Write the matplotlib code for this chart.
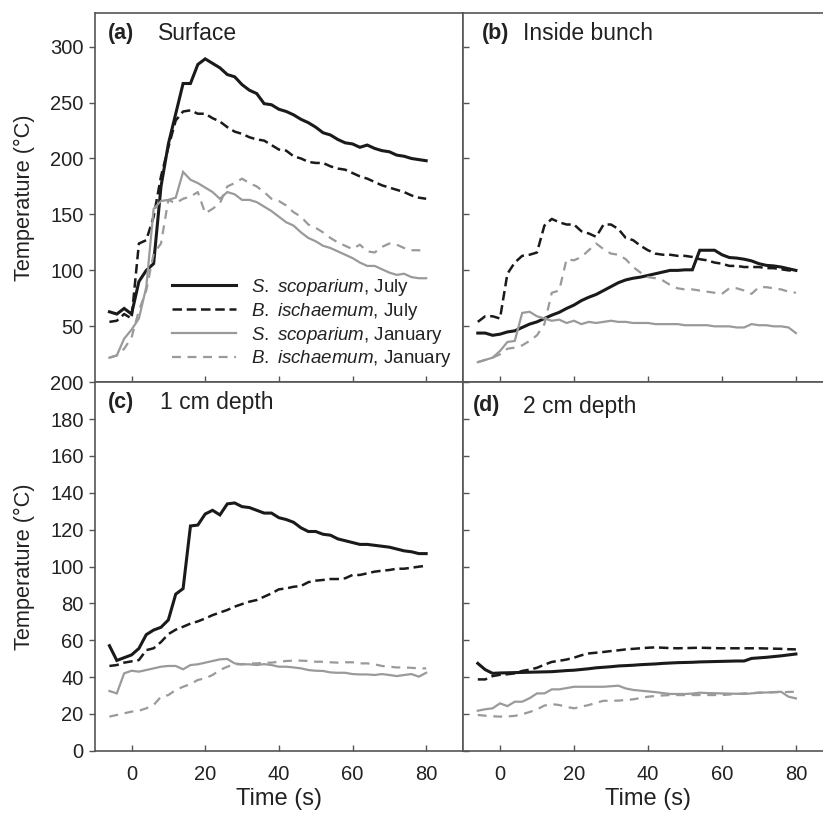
import numpy as np
import matplotlib
matplotlib.use("Agg")
import matplotlib.pyplot as plt

plt.rcParams['font.family'] = ['Liberation Sans', 'DejaVu Sans']
plt.rcParams['mathtext.fontset'] = 'custom'
plt.rcParams['mathtext.it'] = 'Liberation Sans:italic'
plt.rcParams['mathtext.rm'] = 'Liberation Sans'

time_s = list(range(-6, 81, 2))

# Panel (a) Surface
a_ss_jul = [63, 61, 66, 61, 90, 100, 106, 175, 213, 240, 267, 267, 284, 289, 285, 281, 275, 273, 266, 261, 258, 249,
            248, 244, 242, 239, 235, 232, 228, 223, 221, 217, 214, 213, 210, 212, 209, 207, 206, 203, 202, 200, 199, 198]
a_bi_jul = [54, 55, 61, 57, 124, 127, 148, 184, 210, 234, 242, 243, 240, 240, 236, 233, 228, 224, 222, 219, 217, 216,
            212, 208, 207, 202, 200, 197, 196, 196, 193, 191, 190, 187, 184, 182, 179, 176, 174, 172, 170, 167, 165, 164]
a_ss_jan = [22, 24, 39, 47, 57, 85, 155, 162, 163, 165, 188, 181, 178, 174, 170, 164, 170, 168, 163, 163, 161, 157,
            153, 148, 143, 140, 134, 129, 126, 122, 120, 117, 114, 111, 107, 104, 104, 101, 98, 96, 97, 94, 93, 93]
a_bi_jan = [22, 24, 30, 40, 64, 82, 115, 124, 163, 160, 164, 166, 170, 151, 155, 160, 175, 178, 182, 178, 175, 170,
            164, 162, 158, 152, 148, 141, 138, 134, 129, 125, 122, 119, 123, 117, 116, 121, 124, 123, 120, 118, 118, 116]

# Panel (b) Inside bunch
b_ss_jul = [44, 44, 42, 43, 45, 46, 49, 52, 54, 57, 60, 62.5, 66, 69, 73, 76, 78.5, 82, 85.5, 89, 91.5, 93,
            94, 95.5, 97, 98.5, 100, 100, 100.5, 100.5, 118, 118, 118, 114, 111.5, 111, 110, 108.5, 106, 104.5, 104, 103, 101.5, 100]
b_bi_jul = [54, 59, 59, 57, 97, 107, 113, 114, 116, 140, 146, 143, 141, 141, 135, 133, 130, 141, 141, 137, 129, 127,
            122, 118, 115, 114, 114, 113, 113, 112, 110, 109, 107, 106, 104, 104, 103, 103, 103, 102, 102, 101, 100, 100]
b_ss_jan = [18, 20, 22, 28, 36, 37, 62, 63, 59, 57, 55, 56, 53, 55, 52, 54, 53, 54, 55, 54, 54, 53,
            53, 53, 52, 52, 52, 52, 51, 51, 51, 51, 50, 50, 50, 49, 49, 52, 51, 51, 50, 50, 49, 44]
b_bi_jan = [18, 20, 22, 25, 30, 31, 33, 37, 42, 52, 80, 82, 110, 109, 112, 118, 124, 119, 115, 114, 110, 103,
            98, 94, 93, 91, 87, 84, 83, 83, 82, 81, 80, 79, 84, 84, 82, 79, 85, 85, 84, 83, 81, 80]

# Panel (c) 1 cm depth
c_ss_jul = [57, 49, 50.5, 52, 55.5, 63, 65.5, 67, 71, 85, 88, 122, 122.5, 128.5, 130.5, 128, 134, 134.5, 132.5, 132, 130.5, 129,
            129, 126.5, 125.5, 124, 121, 119, 119, 117.5, 117, 115, 114, 113, 112, 112, 111.5, 111, 110.5, 109.5, 108.5, 108, 107, 107]
c_bi_jul = [46, 46.5, 47.8, 48.5, 49.2, 54.6, 55.6, 59, 63.3, 65.7, 67.3, 69, 70.2, 71.8, 73.6, 75, 76.4, 78.2, 79.6, 80.9, 81.8, 83.6,
            85.4, 87.6, 88.1, 89, 89.4, 91.5, 92.3, 92.7, 93.2, 93.2, 93.6, 95.4, 95.4, 96.3, 97.2, 97.7, 98.1, 98.8, 98.8, 99.3, 99.9, 100.4]
c_ss_jan = [32.4, 31.1, 42, 43.4, 42.9, 43.8, 44.7, 45.6, 46, 46, 44.2, 46.5, 46.9, 47.8, 48.7, 49.6, 49.8, 47.4, 46.9, 46.9, 46.5, 47,
            46.5, 45.6, 45.6, 45.2, 44.7, 43.8, 43.4, 43.3, 42.5, 42.3, 42.3, 41.6, 41.4, 41.4, 41.1, 41.6, 41.1, 40.5, 41.1, 41.6, 40.2, 42.3]
c_bi_jan = [18.5, 19.4, 20.3, 21.2, 21.7, 23, 24.8, 29.3, 30.2, 33, 34.7, 36.2, 38.4, 39.3, 41.1, 43.8, 45.6, 46.9, 46.9, 47.4, 47.4, 47.8,
            47.8, 48.3, 48.7, 48.9, 48.9, 48.7, 48.3, 48.3, 48, 47.8, 48, 48, 47.4, 47.4, 46.9, 46, 45.6, 45.2, 45.2, 45, 44.7, 44.7]

# Panel (d) 2 cm depth
d_ss_jul = [47.4, 44, 42, 42.2, 42.3, 42.4, 42.5, 42.6, 42.7, 42.8, 42.9, 43.2, 43.5, 43.7, 44.1, 44.5, 45, 45.3, 45.6, 46, 46.2, 46.4,
            46.7, 46.9, 47.1, 47.4, 47.6, 47.8, 47.9, 48, 48.2, 48.3, 48.4, 48.5, 48.6, 48.7, 48.7, 50.1, 50.4, 50.7, 51.1, 51.5, 52, 52.5]
d_bi_jul = [38.7, 38.7, 40.5, 41.2, 41.5, 42, 43.3, 44, 45, 46.7, 48.2, 48.8, 49.5, 50.5, 51.8, 52.8, 53.2, 53.6, 54.1, 54.5, 55, 55.3,
            55.6, 55.9, 56.1, 55.9, 55.7, 55.6, 55.7, 55.8, 55.9, 55.8, 55.7, 55.6, 55.6, 55.6, 55.6, 55.6, 55.6, 55.5, 55.4, 55.3, 55.1, 55]
d_ss_jan = [21.7, 22.5, 23, 25.7, 24.2, 26.6, 26.6, 28.5, 31.1, 31.1, 33.3, 33.3, 34, 34.7, 34.7, 34.7, 34.7, 34.7, 35, 35.3, 33.8, 33,
            32.6, 32.2, 31.8, 31.3, 30.8, 30.8, 30.8, 31, 31.5, 31.3, 31.2, 31.1, 31, 30.9, 30.8, 31.1, 31.5, 31.6, 31.8, 32, 29.3, 28.4]
d_bi_jan = [19.4, 19, 18.7, 18.5, 18.6, 18.9, 19.8, 21, 22.4, 24.5, 25.3, 24.8, 23.8, 23, 23.9, 24.8, 26, 27.1, 27.1, 27.2, 27.5, 27.9,
            28.6, 29.3, 29.7, 30, 30.2, 30.2, 30.2, 30.2, 30.2, 30.2, 30.2, 30.2, 30.5, 30.8, 31.1, 31.2, 31.5, 31.6, 31.7, 31.8, 31.9, 32]

panel_letters = ["(a)", "(b)", "(c)", "(d)"]
panel_names = ["Surface", "Inside bunch", "1 cm depth", "2 cm depth"]
series_labels = [r"$\it{S.\ scoparium}$, July", r"$\it{B.\ ischaemum}$, July",
                 r"$\it{S.\ scoparium}$, January", r"$\it{B.\ ischaemum}$, January"]
top_yticks = [50, 100, 150, 200, 250, 300]
bottom_yticks = [0, 20, 40, 60, 80, 100, 120, 140, 160, 180, 200]
xticks = [0, 20, 40, 60, 80]

W, H = 823, 815
fig = plt.figure(figsize=(W / 100, H / 100), dpi=100)

def fx(px):
    return px / W

def fy(py):
    return 1 - py / H

left, mid, right = 94.7, 463.0, 832.9
top, hmid, bottom = 13.0, 382.3, 750.7

axes = [
    fig.add_axes([fx(left), fy(hmid), fx(mid - left), fy(top) - fy(hmid)]),
    fig.add_axes([fx(mid), fy(hmid), fx(right - mid), fy(top) - fy(hmid)]),
    fig.add_axes([fx(left), fy(bottom), fx(mid - left), fy(hmid) - fy(bottom)]),
    fig.add_axes([fx(mid), fy(bottom), fx(right - mid), fy(hmid) - fy(bottom)]),
]

BLACK = "#1a1a1a"
GRAY = "#9a9a9a"
SPINE = "#555555"
TXT = "#222222"
styles = [
    dict(color=BLACK, lw=2.2, ls="-"),
    dict(color=BLACK, lw=1.8, ls=(0, (3.8, 1.9))),
    dict(color=GRAY, lw=1.6, ls="-"),
    dict(color=GRAY, lw=1.6, ls=(0, (4.0, 3.0))),
]

data = [
    [a_ss_jul, a_bi_jul, a_ss_jan, a_bi_jan],
    [b_ss_jul, b_bi_jul, b_ss_jan, b_bi_jan],
    [c_ss_jul, c_bi_jul, c_ss_jan, c_bi_jan],
    [d_ss_jul, d_bi_jul, d_ss_jan, d_bi_jan],
]

for i, ax in enumerate(axes):
    for s, st in zip(data[i], styles):
        ax.plot(time_s, s, **st, solid_joinstyle="miter")
    ax.set_xlim(-10, 90)
    if i < 2:
        ax.set_ylim(0, 330)
        ax.set_yticks(top_yticks)
    else:
        ax.set_ylim(0, 200)
        ax.set_yticks(bottom_yticks)
    ax.set_xticks(xticks)
    for sp in ax.spines.values():
        sp.set_color(SPINE)
        sp.set_linewidth(1.2)
    ax.tick_params(axis="x", direction="in", length=4, width=1, color=SPINE,
                   labelsize=14.5, pad=10, labelcolor=TXT)
    if i in (0, 2):
        ax.tick_params(axis="y", direction="out", length=4, width=1, color=SPINE,
                       labelsize=14.5, pad=4, labelcolor=TXT)
        ax.set_ylabel("Temperature (°C)", fontsize=15.7, color=TXT, labelpad=11)
    else:
        ax.tick_params(axis="y", direction="in", length=4, width=1, color=SPINE,
                       labelleft=False)
    if i < 2:
        ax.tick_params(axis="x", labelbottom=False)
    else:
        ax.set_xlabel("Time (s)", fontsize=17, color=TXT, labelpad=3)

# Panel labels
letter_pos = [(108, 33), (481.7, 33), (108, 402), (472.7, 406)]
name_pos = [(158, 33), (523, 33), (160, 402), (523, 406)]
for (lx, ly), (nx, ny), letter, name in zip(letter_pos, name_pos, panel_letters, panel_names):
    fig.text(fx(lx), fy(ly), letter, fontsize=15.5, fontweight="bold", ha="left", va="center", color=TXT)
    fig.text(fx(nx), fy(ny), name, fontsize=16.5, ha="left", va="center", color=TXT)

# Legend
handles = axes[0].get_lines()
leg = axes[0].legend(handles, series_labels, loc="lower left", bbox_to_anchor=(0.21, 0.035),
                     frameon=False, fontsize=13.5, handlelength=3.4, handletextpad=0.8,
                     labelspacing=0.15, borderpad=0, borderaxespad=0)
for t in leg.get_texts():
    t.set_color(TXT)

fig.savefig("out.png", dpi=100)
